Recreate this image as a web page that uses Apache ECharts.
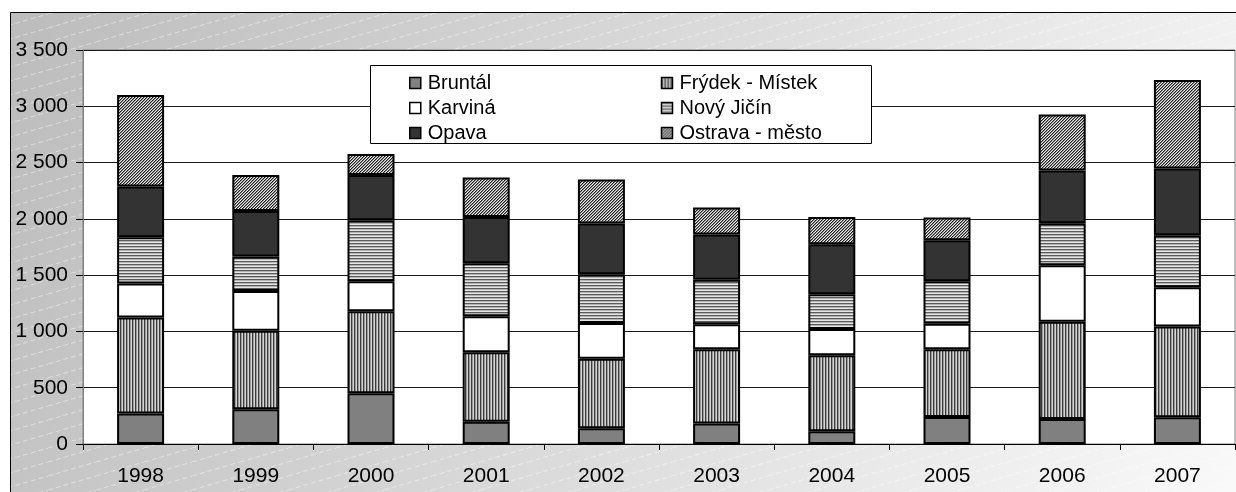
<!DOCTYPE html>
<html>
<head>
<meta charset="utf-8">
<script src="https://cdn.jsdelivr.net/npm/echarts@6/dist/echarts.min.js"></script>
<style>
  html, body { margin: 0; padding: 0; background: #fff; }
  #chart { width: 1236px; height: 492px; }
</style>
</head>
<body>
<div id="chart"></div>
<script>
/* global echarts */
const years = ['1998', '1999', '2000', '2001', '2002', '2003', '2004', '2005', '2006', '2007'];
const bruntal = [272, 308, 450, 198, 139, 181, 113, 240, 222, 237];
const frydek = [851, 699, 729, 617, 619, 660, 675, 601, 865, 806];
const karvina = [302, 353, 266, 319, 317, 222, 234, 228, 501, 349];
const novyJicin = [411, 305, 543, 471, 433, 397, 308, 376, 373, 462];
const opava = [451, 405, 402, 412, 450, 400, 444, 365, 468, 593];
const ostrava = [814, 320, 187, 350, 391, 240, 243, 201, 497, 787];
const yTicks = [0, 500, 1000, 1500, 2000, 2500, 3000, 3500];

function make_pattern(w, h, painter) {
    const c = document.createElement('canvas');
    c.width = w;
    c.height = h;
    const ctx = c.getContext('2d');
    for (let x = 0; x < w; x++) {
        for (let y = 0; y < h; y++) {
            ctx.fillStyle = painter(x, y);
            ctx.fillRect(x, y, 1, 1);
        }
    }
    return { image: c, repeat: 'repeat' };
}

const vStripes = make_pattern(3, 1, x => ['#3c3c3c', '#9a9a9a', '#d4d4d4'][x]);
const hStripes = make_pattern(1, 3, (x, y) => ['#5a5a5a', '#b4b4b4', '#e6e6e6'][y]);
const diagHatch = make_pattern(3, 3, (x, y) => ['#1e1e1e', '#8c8c8c', '#e8e8e8'][(x + y) % 3]);

function bg_lines() {
    const c = document.createElement('canvas');
    c.width = 48;
    c.height = 14;
    const ctx = c.getContext('2d');
    ctx.strokeStyle = 'rgba(255,255,255,0.45)';
    ctx.lineWidth = 1;
    ctx.setLineDash([5, 3]);
    ctx.beginPath();
    ctx.moveTo(0, 14);
    ctx.lineTo(48, 0);
    ctx.stroke();
    return { image: c, repeat: 'repeat' };
}

const fmt = v => String(v).replace(/\B(?=(\d{3})+(?!\d))/g, ' ');

const chart = echarts.init(document.getElementById('chart'));

const seriesDefs = [
    { name: 'Bruntál', data: bruntal, color: '#808080' },
    { name: 'Frýdek - Místek', data: frydek, color: vStripes },
    { name: 'Karviná', data: karvina, color: '#ffffff' },
    { name: 'Nový Jičín', data: novyJicin, color: hStripes },
    { name: 'Opava', data: opava, color: '#333333' },
    { name: 'Ostrava - město', data: ostrava, color: diagHatch }
];

const option = {
    animation: false,
    textStyle: { fontFamily: 'Liberation Sans, Arial, sans-serif' },
    graphic: [
        {
            type: 'rect',
            z: -10,
            shape: { x: 10.5, y: 12.5, width: 1240, height: 490 },
            style: {
                fill: new echarts.graphic.LinearGradient(0, 0, 1, 1, [
                    { offset: 0, color: '#bcbcbc' },
                    { offset: 1, color: '#fafafa' }
                ]),
                stroke: '#000',
                lineWidth: 1
            }
        },
        {
            type: 'rect',
            z: -9,
            shape: { x: 11, y: 13, width: 1230, height: 480 },
            style: { fill: bg_lines() }
        },
        {
            type: 'rect',
            z: 3,
            shape: { x: 370.5, y: 65.5, width: 501, height: 78 },
            style: { fill: '#fff', stroke: '#000', lineWidth: 1 }
        }
    ],
    legend: {
        left: 409,
        top: 73,
        padding: 0,
        width: 600,
        itemWidth: 11,
        itemHeight: 11,
        itemGap: 5,
        icon: 'rect',
        z: 5,
        itemStyle: { borderColor: '#000', borderWidth: 1.5 },
        textStyle: { fontSize: 20, color: '#000', width: 228, lineHeight: 20, padding: [0, 0, 0, 2] },
        data: seriesDefs.map(s => s.name)
    },
    grid: {
        left: 83,
        right: 1,
        top: 50,
        bottom: 48,
        show: true,
        backgroundColor: '#fff',
        borderColor: '#808080',
        borderWidth: 1
    },
    xAxis: {
        type: 'category',
        data: years,
        axisLine: { lineStyle: { color: '#000', width: 1 } },
        axisTick: { show: true, length: 6, lineStyle: { color: '#000' } },
        axisLabel: { fontSize: 21, color: '#000', margin: 22 }
    },
    yAxis: {
        type: 'value',
        min: yTicks[0],
        max: yTicks[yTicks.length - 1],
        interval: 500,
        axisLine: { show: true, lineStyle: { color: '#808080' } },
        axisTick: { show: true, length: 7, lineStyle: { color: '#000' } },
        axisLabel: { fontSize: 21, color: '#000', margin: 15, formatter: v => fmt(v) },
        splitLine: { lineStyle: { color: '#1a1a1a', width: 1 } }
    },
    series: seriesDefs.map(s => ({
        name: s.name,
        type: 'bar',
        stack: 'total',
        barWidth: 47,
        data: s.data,
        itemStyle: { color: s.color, borderColor: '#000', borderWidth: 2 }
    }))
};

chart.setOption(option);
</script>
</body>
</html>
